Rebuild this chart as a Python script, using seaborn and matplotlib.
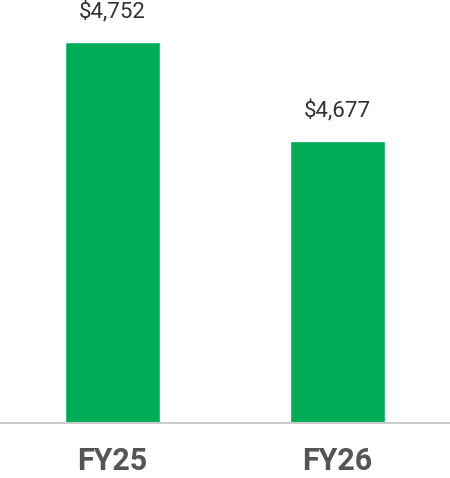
import matplotlib
matplotlib.use("Agg")
import matplotlib.pyplot as plt
import seaborn as sns
import pandas as pd

categories = ["FY25", "FY26"]
values = [4752, 4677]
value_labels = ["$4,752", "$4,677"]

sns.set_style("white")
plt.rcParams["font.family"] = ["Roboto", "DejaVu Sans"]

df = pd.DataFrame({"year": categories, "value": values})

fig = plt.figure(figsize=(4.5, 4.78), dpi=100)
ax = fig.add_axes([0, (478 - 422.7) / 478, 1, 422.7 / 478])

sns.barplot(data=df, x="year", y="value", color="#00ac56", width=0.422,
            saturation=1, ax=ax)

ax.set_xlim(-0.5, 1.5)
ax.set_ylim(4462.7, 4784)

for i, (v, lab) in enumerate(zip(values, value_labels)):
    ax.annotate(lab, xy=(i, v), xytext=(0, 21.5), textcoords="offset points",
                ha="center", va="center", fontsize=16, fontweight="normal",
                color="#333333")

for s in ["top", "left", "right"]:
    ax.spines[s].set_visible(False)
ax.spines["bottom"].set_color("#cccccc")
ax.spines["bottom"].set_linewidth(1.5)
ax.set_yticks([])
ax.tick_params(axis="x", length=0, pad=17)
for t in ax.get_xticklabels():
    t.set_fontsize(22)
    t.set_fontweight("bold")
    t.set_color("#555555")
ax.set_xlabel("")
ax.set_ylabel("")
ax.patch.set_alpha(0)

fig.savefig("out.png", dpi=100)
